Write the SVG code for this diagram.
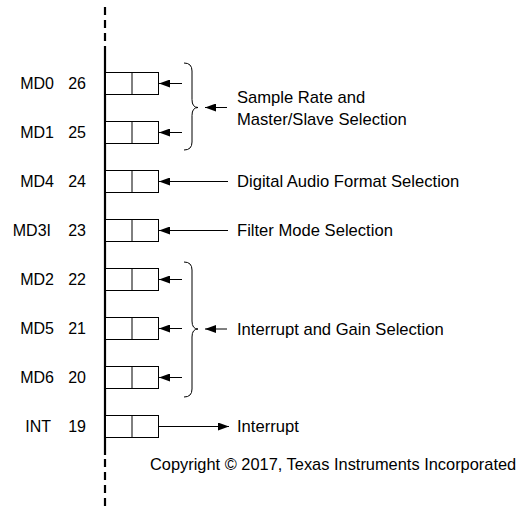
<svg xmlns="http://www.w3.org/2000/svg" width="518" height="508" viewBox="0 0 518 508">
<style>
text{font-family:"Liberation Sans",Arial,sans-serif;font-size:16px;fill:#000}
.lbl{text-anchor:end}
.r{font-size:16.6px}
.cp{font-size:16.4px}
.box{fill:#fff;stroke:#000;stroke-width:1}
.ln{stroke:#000;stroke-width:1;fill:none}
.brace{stroke:#000;stroke-width:1;fill:none}
.bus{stroke:#000;stroke-width:2.2;fill:none}
</style>
<defs>
<marker id="ah" viewBox="0 0 11 8" refX="11" refY="4" markerWidth="11" markerHeight="8" markerUnits="userSpaceOnUse" orient="auto">
<path d="M0,0 L11,4 L0,8 z" fill="#000"/>
</marker>
</defs>
<rect width="518" height="508" fill="#fff"/>
<g id="bus">
<line class="bus" x1="105" y1="7" x2="105" y2="48" stroke-dasharray="8 5"/>
<line class="bus" x1="105" y1="48" x2="105" y2="455"/>
<line class="bus" x1="105" y1="459" x2="105" y2="508" stroke-dasharray="8 5"/>
</g>
<g id="row-md0"><text class="lbl" x="54" y="89">MD0</text><text class="lbl" x="86" y="89">26</text><rect class="box" x="105.5" y="72.5" width="53" height="22"/><line class="ln" x1="132" y1="72.5" x2="132" y2="94.5"/></g>
<g id="row-md1"><text class="lbl" x="54" y="138">MD1</text><text class="lbl" x="86" y="138">25</text><rect class="box" x="105.5" y="121.5" width="53" height="22"/><line class="ln" x1="132" y1="121.5" x2="132" y2="143.5"/></g>
<g id="row-md4"><text class="lbl" x="54" y="187">MD4</text><text class="lbl" x="86" y="187">24</text><rect class="box" x="105.5" y="170.5" width="53" height="22"/><line class="ln" x1="132" y1="170.5" x2="132" y2="192.5"/></g>
<g id="row-md3i"><text class="lbl" x="51" y="236">MD3I</text><text class="lbl" x="86" y="236">23</text><rect class="box" x="105.5" y="219.5" width="53" height="22"/><line class="ln" x1="132" y1="219.5" x2="132" y2="241.5"/></g>
<g id="row-md2"><text class="lbl" x="54" y="285">MD2</text><text class="lbl" x="86" y="285">22</text><rect class="box" x="105.5" y="268.5" width="53" height="22"/><line class="ln" x1="132" y1="268.5" x2="132" y2="290.5"/></g>
<g id="row-md5"><text class="lbl" x="54" y="334">MD5</text><text class="lbl" x="86" y="334">21</text><rect class="box" x="105.5" y="317.5" width="53" height="22"/><line class="ln" x1="132" y1="317.5" x2="132" y2="339.5"/></g>
<g id="row-md6"><text class="lbl" x="54" y="383">MD6</text><text class="lbl" x="86" y="383">20</text><rect class="box" x="105.5" y="366.5" width="53" height="22"/><line class="ln" x1="132" y1="366.5" x2="132" y2="388.5"/></g>
<g id="row-int"><text class="lbl" x="51" y="432">INT</text><text class="lbl" x="86" y="432">19</text><rect class="box" x="105.5" y="415.5" width="53" height="22"/><line class="ln" x1="132" y1="415.5" x2="132" y2="437.5"/></g>
<g id="brace-sample"><path class="brace" d="M184,63 Q192,63 192,71 L192,99.5 Q192,107.5 198,107.5 Q192,107.5 192,115.5 L192,142 Q192,150 184,150"/><text class="r" x="237" y="103">Sample Rate and</text><text class="r" x="237" y="125">Master/Slave Selection</text></g>
<g id="label-format"><text class="r" x="237" y="187">Digital Audio Format Selection</text></g>
<g id="label-filter"><text class="r" x="237" y="236">Filter Mode Selection</text></g>
<g id="brace-interrupt"><path class="brace" d="M184,262 Q192,262 192,270 L192,321 Q192,329 198,329 Q192,329 192,337 L192,389 Q192,397 184,397"/><text class="r" x="237" y="335">Interrupt and Gain Selection</text></g>
<g id="label-int"><text class="r" x="237" y="432">Interrupt</text></g>
<g id="connectors">
<line class="ln" x1="182" y1="83.5" x2="159" y2="83.5" marker-end="url(#ah)"/>
<line class="ln" x1="182" y1="132.5" x2="159" y2="132.5" marker-end="url(#ah)"/>
<line class="ln" x1="227" y1="107.5" x2="205" y2="107.5" marker-end="url(#ah)"/>
<line class="ln" x1="228" y1="181.5" x2="159" y2="181.5" marker-end="url(#ah)"/>
<line class="ln" x1="228" y1="230.5" x2="159" y2="230.5" marker-end="url(#ah)"/>
<line class="ln" x1="182" y1="279.5" x2="159" y2="279.5" marker-end="url(#ah)"/>
<line class="ln" x1="182" y1="328.5" x2="159" y2="328.5" marker-end="url(#ah)"/>
<line class="ln" x1="182" y1="377.5" x2="159" y2="377.5" marker-end="url(#ah)"/>
<line class="ln" x1="227" y1="329" x2="205" y2="329" marker-end="url(#ah)"/>
<line class="ln" x1="159" y1="426.5" x2="229" y2="426.5" marker-end="url(#ah)"/>
</g>
<text class="cp" x="150" y="470">Copyright © 2017, Texas Instruments Incorporated</text>
</svg>
